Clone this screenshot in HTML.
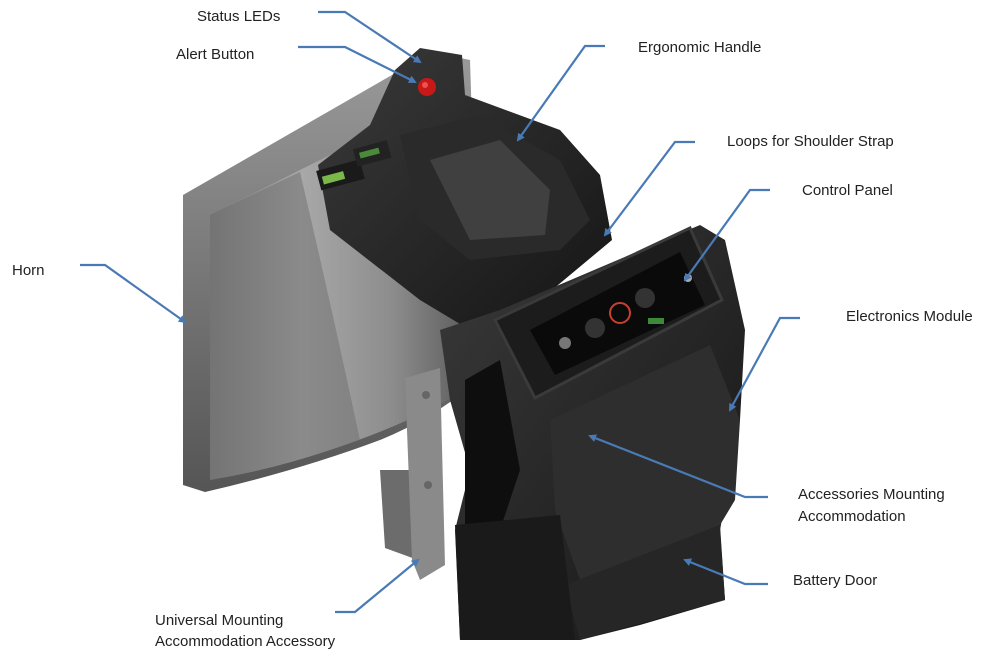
<!DOCTYPE html>
<html><head><meta charset="utf-8"><style>
html,body{margin:0;padding:0;background:#fff;}
svg{display:block}
text{font-family:"Liberation Sans",sans-serif;font-size:15px;fill:#222;}
</style></head><body>
<svg width="1000" height="664" viewBox="0 0 1000 664" xmlns="http://www.w3.org/2000/svg">
<defs>
<linearGradient id="horn" x1="0" y1="0" x2="1" y2="0">
<stop offset="0" stop-color="#7a7a7a"/><stop offset="0.35" stop-color="#a8a8a8"/><stop offset="0.7" stop-color="#8c8c8c"/><stop offset="1" stop-color="#5a5a5a"/>
</linearGradient>
<linearGradient id="rim" x1="0" y1="0" x2="0" y2="1">
<stop offset="0" stop-color="#9a9a9a"/><stop offset="1" stop-color="#555"/>
</linearGradient>
<linearGradient id="blk" x1="0" y1="0" x2="1" y2="1">
<stop offset="0" stop-color="#3a3a3a"/><stop offset="1" stop-color="#151515"/>
</linearGradient>
<marker id="ar" markerWidth="8" markerHeight="8" refX="6" refY="4" orient="auto" markerUnits="userSpaceOnUse">
<path d="M0,0 L8,4 L0,8 z" fill="#4a7ab5"/>
</marker>
</defs>
<!-- horn rim -->
<path d="M183,195 L432,52 L470,60 L480,380 Q430,420 380,440 Q300,470 205,492 L183,485 Z" fill="url(#rim)"/>
<!-- horn inner -->
<path d="M210,215 L440,100 L472,385 Q420,420 330,450 Q270,470 210,480 Z" fill="url(#horn)"/>
<path d="M210,215 L300,172 Q330,300 360,440 Q280,468 210,480 Z" fill="#6e6e6e" opacity="0.5"/>
<!-- mounting bracket -->
<polygon points="380,470 412,470 418,560 385,548" fill="#6c6c6c"/>
<polygon points="405,378 440,368 445,565 420,580 412,560" fill="#8a8a8a"/>
<circle cx="426" cy="395" r="4" fill="#666"/><circle cx="428" cy="485" r="4" fill="#666"/>
<!-- handle / top body -->
<path d="M395,70 L420,48 L462,55 L465,95 L560,130 L600,175 L612,240 L540,300 L470,330 L420,300 L330,230 L318,165 L370,125 Z" fill="url(#blk)"/>
<path d="M400,135 L480,115 L560,160 L590,220 L560,250 L470,260 L420,220 Z" fill="#2a2a2a"/>
<path d="M430,160 L500,140 L550,190 L545,235 L470,240 Z" fill="#404040"/>
<!-- LED displays -->
<rect x="318" y="165" width="45" height="20" fill="#1a1a1a" transform="rotate(-15 340 175)"/>
<rect x="322" y="172" width="22" height="8" fill="#7ab84a" transform="rotate(-15 340 175)"/>
<rect x="355" y="145" width="35" height="18" fill="#222" transform="rotate(-15 370 155)"/>
<rect x="360" y="150" width="20" height="6" fill="#4a8a3a" transform="rotate(-15 370 155)"/>
<!-- alert button -->
<circle cx="427" cy="87" r="9" fill="#c81818"/>
<circle cx="425" cy="85" r="3" fill="#f05050"/>
<!-- main body -->
<path d="M440,330 L500,310 L700,225 L725,240 L745,330 L740,420 L720,530 L725,600 L640,625 L580,640 L460,640 L455,530 L470,470 L450,400 Z" fill="url(#blk)"/>
<path d="M465,380 L500,360 L520,470 L500,530 L465,530 Z" fill="#0e0e0e"/>
<!-- front face -->
<path d="M550,420 L710,345 L740,420 L735,500 L720,525 L580,580 L555,510 Z" fill="#2e2e2e"/>
<path d="M565,585 L720,525 L725,600 L580,640 Z" fill="#262626"/>
<!-- battery box -->
<polygon points="455,525 560,515 575,640 460,640" fill="#1a1a1a"/>
<!-- control panel housing -->
<polygon points="495,320 690,228 722,300 535,398" fill="#1c1c1c" stroke="#3a3a3a" stroke-width="3"/>
<polygon points="530,330 680,252 705,305 555,375" fill="#0a0a0a"/>
<circle cx="595" cy="328" r="10" fill="#333"/>
<circle cx="645" cy="298" r="10" fill="#333"/>
<circle cx="620" cy="313" r="10" fill="none" stroke="#c84030" stroke-width="2"/>
<rect x="648" y="318" width="16" height="6" fill="#3a8a3a"/>
<circle cx="565" cy="343" r="6" fill="#777"/>
<circle cx="688" cy="278" r="4" fill="#aaa"/>
<!-- arrows -->
<g stroke="#4a7ab5" stroke-width="2.2" fill="none">
<polyline points="318,12 345,12 420,62" marker-end="url(#ar)"/>
<polyline points="298,47 345,47 415,82" marker-end="url(#ar)"/>
<polyline points="605,46 585,46 518,140" marker-end="url(#ar)"/>
<polyline points="695,142 675,142 605,235" marker-end="url(#ar)"/>
<polyline points="770,190 750,190 685,280" marker-end="url(#ar)"/>
<polyline points="80,265 105,265 185,322" marker-end="url(#ar)"/>
<polyline points="800,318 780,318 730,410" marker-end="url(#ar)"/>
<polyline points="768,497 745,497 590,436" marker-end="url(#ar)"/>
<polyline points="768,584 745,584 685,560" marker-end="url(#ar)"/>
<polyline points="335,612 355,612 418,560" marker-end="url(#ar)"/>
</g>
<!-- labels -->
<text x="197" y="21">Status LEDs</text>
<text x="176" y="59">Alert Button</text>
<text x="638" y="52">Ergonomic Handle</text>
<text x="727" y="146">Loops for Shoulder Strap</text>
<text x="802" y="195">Control Panel</text>
<text x="12" y="275">Horn</text>
<text x="846" y="321">Electronics Module</text>
<text x="798" y="499">Accessories Mounting</text>
<text x="798" y="521">Accommodation</text>
<text x="793" y="585">Battery Door</text>
<text x="155" y="625">Universal Mounting</text>
<text x="155" y="646">Accommodation  Accessory</text>
</svg>
</body></html>
